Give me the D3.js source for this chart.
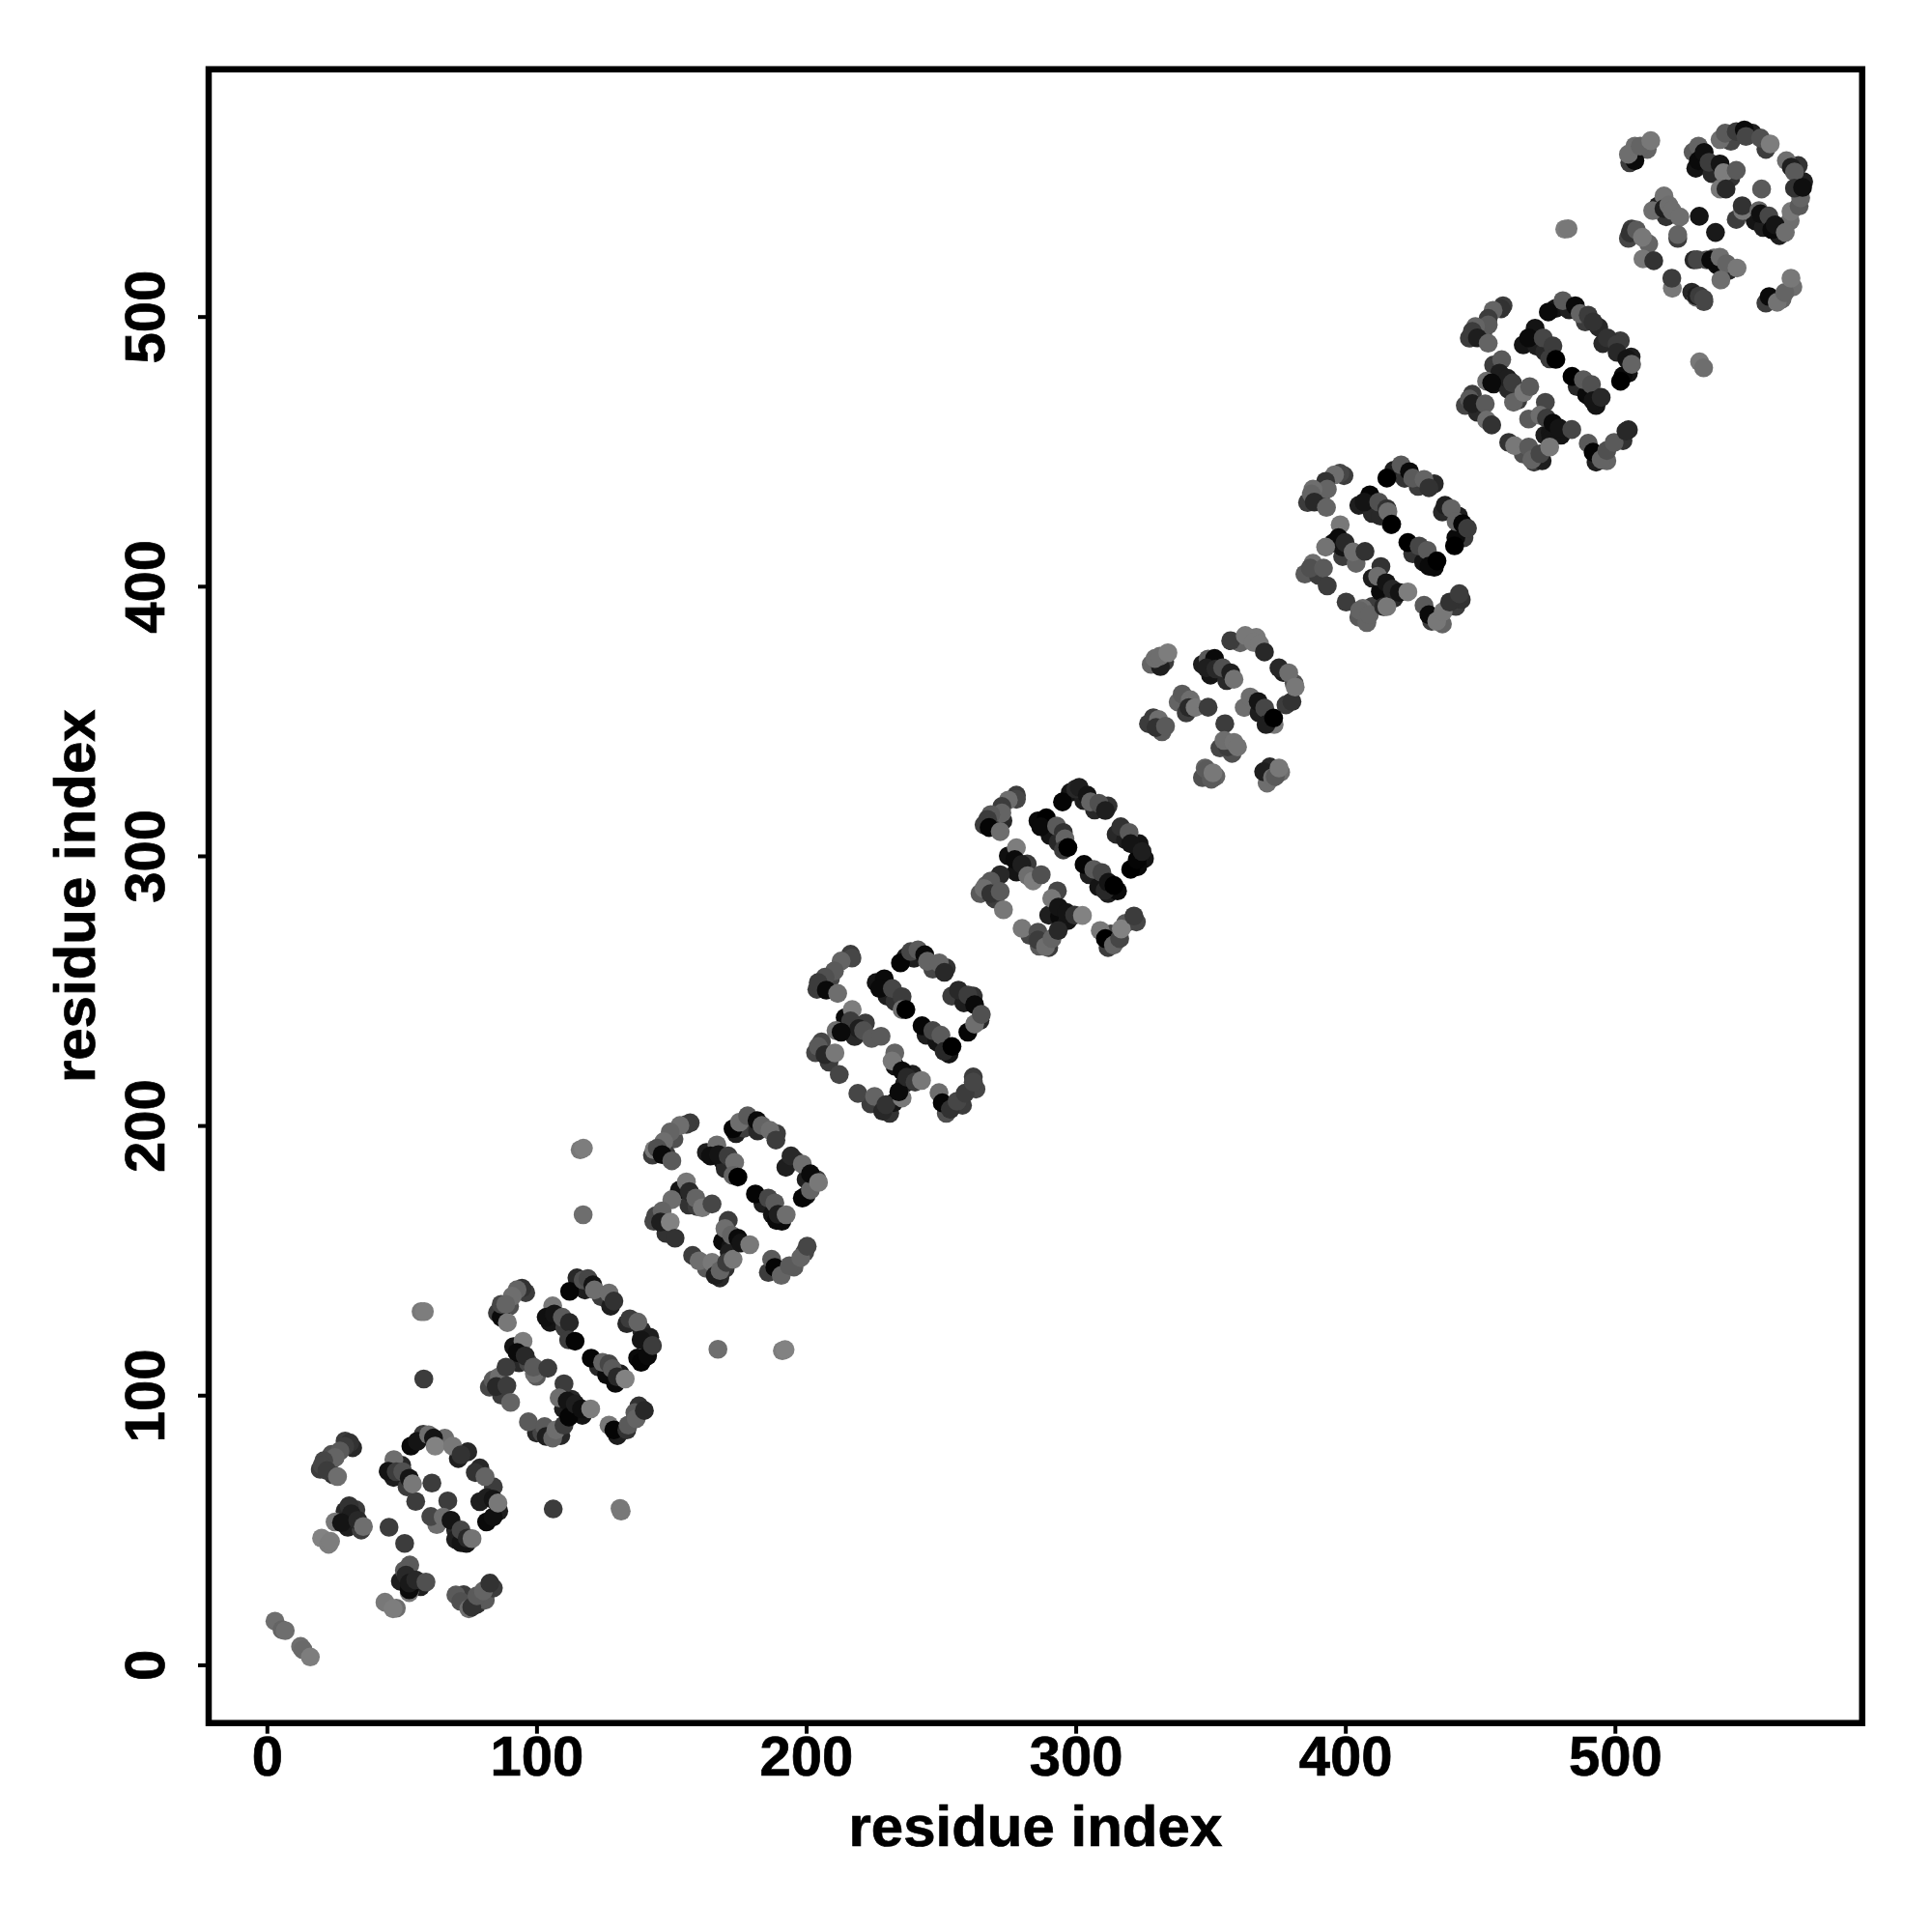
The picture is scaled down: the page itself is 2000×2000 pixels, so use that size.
<!DOCTYPE html>
<html>
<head>
<meta charset="utf-8">
<script src="https://cdn.jsdelivr.net/npm/d3@7"></script>
<style>html,body{margin:0;padding:0;background:#fff}svg{display:block}</style>
</head>
<body>
<svg id="chart" width="2000" height="2000"></svg>
<script>
const axisTicks = [0,100,200,300,400,500];
const xTitle = "residue index";
const yTitle = "residue index";
// each contact: [residue i, residue j, signal level]
const outliers = [[57.2,131,120],[58.4,131,125],[58.2,106,60],[106.2,57.8,60],[131,58,120],[131.4,57,120],[116.2,191,120],[117.4,191.6,125],[117.3,166.9,110],[167.3,117,110],[191.2,116.5,125],[192.2,116.9,130],[481.4,532.4,125],[482.6,532.6,120],[531.4,483.2,120],[532.9,481,110]];
const diagonal = [[3,16.2,110],[5.6,13,100],[6.8,12.7,110],[12.5,6.8,110],[13.4,5.6,105],[16.1,2.9,125]];
const under1 = [[29,83,60],[31.8,80.5,40],[24,78,80],[19.8,72.5,60],[24.5,70.5,50],[29,57,40],[33,57.5,60],[30,51,30],[35,50,60],[53,37,90],[49.5,31,30],[57,29,30],[48,21,110],[73,26,60],[78,22.5,50],[81,24,90],[84,28.5,60],[50,74,40],[47,69.5,30],[52,66,60],[58,85.5,60],[64,83,40],[66,84,110],[74.5,79,40],[71,76.5,30],[79,73,40],[84,66,60],[79,60.5,30],[86,57,30],[63,52,110],[70,50,40],[74,45,20],[70,46.5,30]];
const under2 = [[96,138,60],[90,133,80],[85.5,130.5,60],[108,127.5,30],[105,127,20],[110.5,125,60],[115,143.5,40],[118,139,30],[124,136.5,60],[127.5,133,30],[133.5,126.5,40],[139,124,40],[142,121.5,30],[137.5,113.8,10],[123,110.5,40],[126,107.5,10],[131,108,30],[91.5,118,20],[93.5,112,40],[97,112,70],[100,107,90],[82.5,103,70],[87,100,60],[100,86,40],[102,86,70],[109,85,40],[112,93,20],[113,98.5,40],[110,95,30],[117,92.5,20],[130,85,30],[138,96,50],[136.5,93.5,90]];
const under3 = [[157,201,60],[151,195,80],[143,189,60],[148,189.5,60],[163,190,30],[169,187,20],[170,184,40],[174,197,30],[177,199,60],[182,198,40],[189,197,60],[196,187,40],[192.5,184.5,30],[200,180,30],[204,180,60],[200,174,20],[184,171,30],[187.5,167,20],[191,164.5,10],[153,176,20],[156.5,170.5,50],[159.5,170,60],[143.5,164.5,70],[148,160,50],[163,147,90],[168,143.5,40],[170,147,50],[169,157,10],[172,155,20],[171.5,153,30],[186,145.5,60],[195.5,147.5,90],[199.5,153,70]];
const under4 = [[216.5,263.5,60],[209,254.5,70],[204,250.5,60],[226,253,20],[230,248,30],[233,246,50],[237,262.5,30],[240,262,30],[247,258,70],[252,258.5,50],[254,248,60],[258.5,245.5,30],[262,248,50],[264.5,239,40],[244.5,233.5,30],[248.5,231,20],[253,226.5,20],[214.5,240,10],[218,233,40],[222,238,60],[203.5,227,70],[208.5,223.5,60],[224,208,60],[231,204.5,50],[232.5,208.5,20],[233,222,20],[236.5,215.5,30],[239.5,219,30],[252,204.5,80],[258,207.5,60],[263,213.5,70],[262,218,60]];
const under5 = [[278,322.5,60],[273,313,40],[266,311.5,60],[286,313,10],[290.5,307.5,20],[293.5,305,40],[298,323.5,20],[303,320.5,30],[307,317,40],[312,318.5,50],[315,308,40],[318.5,306,30],[323.5,304.5,20],[325.5,299,20],[323,296,10],[305,293,30],[308.5,288.5,20],[312,286,30],[315.5,287,10],[275,300,15],[278,294,20],[282,297,60],[264.5,286,90],[270,284,60],[283,270.5,70],[286.5,266.5,90],[290,266,60],[290,278,30],[294,277.5,10],[297,276,20],[313,271,70],[318.5,275,90],[322.5,275.5,70],[312,266,60]];
const under6 = [[333,372,60],[328,371,100],[347,371,30],[350,367,20],[356,365,40],[361,379,100],[367,381,120],[377,368,30],[381,364,80],[378,356,60],[362.5,355,110],[368,353,30],[372,350,50],[338,357,100],[341,353,60],[332,346,90],[327,349,60],[353.5,340,70],[358,338,80],[347,329,80],[352,329.5,100],[371,327,110],[376,331,110],[372,333,40]];
const under7 = [[399.5,441,60],[391,434,60],[386,431,60],[405,430,30],[410,427,40],[413,426,40],[418,443,30],[422,440,50],[427,437,60],[433,438,40],[436,427.5,40],[442,426,30],[444,418,60],[441,418,10],[425,412,50],[429,409,20],[433,407,10],[395.5,416,10],[399,411,60],[404,408.5,100],[385,404.5,90],[390,404,60],[405,388.5,90],[410,392.5,60],[408,386.5,100],[410,403,30],[413,398,10],[418,395.5,40],[432,387,60],[436,386,100],[441,392.5,60],[443,395,50]];
const under8 = [[458.5,504,60],[451,494,70],[446,492,60],[466,489.5,20],[471,489,30],[474,487,40],[478,503,20],[483,502.5,30],[489,498,60],[494,496,40],[495.5,490,40],[502,491,60],[506,485,30],[505,479,20],[503,478,10],[486,474,40],[489.5,471,10],[493,467,20],[455,482,60],[455,475,20],[460.5,473,40],[464,469,60],[444.5,467,70],[449,464.5,40],[466,449,80],[470,446,60],[473,446.5,30],[474,456,30],[480,456,20],[476,457,20],[493,446,30],[497,446.5,100],[503,454,50],[505,458,40]];
const under9 = [[512,562,100],[505.5,557,60],[529,561,90],[530,555,20],[536,553,40],[543,551.5,50],[543,565,70],[551,568,30],[556,562,60],[568,556,50],[570,550,30],[565,535.5,110],[545,536,60],[552,535.5,20],[555,533,30],[561,530,30],[516,541,30],[519,537,50],[505,529,70],[512.5,527,100],[534,521,80],[538,519,20],[542,517,40],[528.5,509,40],[533,505.5,70],[556,505,60],[562,506.5,100],[566,511,110]];
const block1 = [[30.7,82.3,50],[28.9,81,60],[27.1,79.3,90],[25.3,76.9,100],[21.1,75.7,70],[20.5,74,70],[22.3,72,60],[26.2,69.8,110],[30.5,59,50],[31.3,56,30],[25.3,53,120],[27.7,52.7,20],[33.7,53.6,40],[35.8,51.3,110],[20.3,47,130],[22.9,44.7,125],[23.6,45.8,125],[51,35,90],[51.6,33.3,40],[52.8,26.8,120],[52.8,27.8,10],[52.8,30.3,25],[55.2,31.5,40],[59,30.7,80],[43.8,23.2,120],[46.8,20.8,125],[70.1,25.9,90],[71.9,23.5,80],[74.9,20.8,110],[76,21.4,50],[77.9,25.6,90],[80.3,27.4,100],[82.7,30.3,50],[45.3,51,60],[51.1,45,60],[61.2,67.4,60],[55.2,60.6,60],[67.1,60.8,60],[60.8,55,70],[47.1,76.1,110],[45,71.8,20],[48,71.6,60],[50.4,71.6,80],[52.8,69.2,20],[54,67.1,120],[53.4,81.1,10],[55.8,82.9,20],[60,85.3,110],[61.8,84.1,20],[62.4,81.1,130],[68.9,81.1,120],[72,77.9,50],[77.3,71.3,50],[80.9,69.8,100],[81.5,62,30],[81.5,53,10],[83.9,54.8,15],[83.9,61.4,20],[85.7,60,120],[65.4,54.8,110],[68.3,53.6,20],[72,45.3,20],[72,50,70],[74.3,47,40],[76.1,46.8,115]];
const block2 = [[94.6,139.7,50],[92.8,139.1,100],[91,136.7,110],[86.9,128.9,10],[86.9,133.7,70],[88.6,133.7,100],[89.2,126.9,120],[106,133.1,120],[103.6,128.9,15],[106.6,130.1,20],[109.6,128.9,90],[112.2,126.9,40],[111.9,120.5,60],[114.3,120,5],[112.3,138.5,5],[117.3,142.7,80],[119.1,143.2,70],[120.9,140.9,20],[121.5,139,110],[126.9,137.9,110],[128.7,134.9,50],[134.6,128.3,60],[137.6,127.1,100],[138.8,112.2,5],[141.2,114.6,10],[138.8,120.5,20],[143,118.4,60],[120.3,113.7,5],[124.5,112.2,100],[126.9,111.6,70],[128.1,109.8,90],[129.3,104.4,10],[129.9,106.8,40],[132.9,106,130],[95,120,125],[92.8,115.8,10],[95.8,114.6,40],[99.2,108,110],[98.9,110.4,90],[104.2,110,60],[83.9,105.6,90],[86.2,106.8,110],[85.1,103.2,40],[88.7,110.4,60],[89,103.5,60],[90.4,97.3,100],[97,90.1,90],[103,88.3,90],[103.6,84.7,30],[106,84.1,100],[107.2,87.1,110],[110.2,88.9,60],[110.2,104.2,60],[108.4,99,110],[111.4,97.8,20],[112,91.9,5],[114.4,96.7,30],[116.7,94.9,15],[120.1,94.9,125],[126.9,88.9,120],[128.7,87.1,5],[133.5,87.1,50],[134,88.9,90],[137,91.3,100],[140,94.3,40]];
const block3 = [[155.6,200.4,60],[153.2,200,110],[149.6,197.6,100],[147.2,194,110],[143.6,191,120],[144.8,191.6,80],[146.6,189.2,10],[150.2,186.9,90],[166.9,192.8,110],[164.5,188.7,15],[167.5,189.2,20],[171.1,188.7,60],[173.5,186.3,110],[172.9,181.5,100],[174.7,180.9,0],[172.9,198.8,5],[175.3,201.2,110],[178.3,203.6,90],[181.8,201.8,10],[183.6,200,100],[186.6,198.2,110],[188.8,194.6,60],[194.4,188.7,40],[198.6,185.7,110],[198.6,173.1,5],[201.6,176.1,100],[201.6,182.1,10],[204.6,178.9,120],[181.2,174.6,5],[186,173.1,70],[188.4,171.3,90],[189,164.8,10],[189.6,167.1,30],[192.6,166.9,110],[155.6,179.1,120],[156.7,175.5,40],[159.1,173.1,100],[161.5,169.5,120],[165.1,170.9,70],[150.2,172.5,110],[144.2,166.5,70],[146.6,168.3,100],[146,164.2,30],[149.6,164.2,130],[151.4,158.2,50],[157.9,151.8,60],[160.3,149.8,110],[165.1,149.2,120],[166.3,144.4,30],[168.1,146.2,100],[170.5,149.2,60],[172.9,150.4,120],[171.1,164.8,60],[169.9,161.8,110],[172.3,159.4,100],[174.7,158.2,10],[175.8,156.4,20],[179.1,155.8,120],[187.2,150.4,90],[188.4,147.4,5],[190.8,144.4,100],[193.8,148,90],[198,151,100],[200.4,155.2,70]];
const block4 = [[217,262.1,70],[213,261,100],[210.5,257.3,90],[207,255,80],[204.5,253,60],[207.5,250.2,10],[211.7,249,110],[229,254.4,10],[227.3,250.8,10],[232,250.8,70],[235.6,247.8,60],[235.6,243,110],[237,243,0],[235,260.3,5],[238.8,264.5,70],[241.5,265.1,90],[244,263.3,10],[245,260.9,100],[249.4,260.3,100],[251.3,256.8,40],[256.5,250.2,40],[260,248.4,60],[260,234.6,5],[262.5,237.6,110],[262.5,244.8,10],[265,241.2,80],[243,237,5],[247,235.2,70],[250,233.5,90],[251.2,227.5,40],[254.1,229.3,0],[217.1,243,125],[216.5,238.8,60],[219.5,235.9,30],[221.3,235.2,80],[224.3,232.3,90],[227.8,233.1,90],[211.1,235.2,110],[213,234.6,10],[205.7,231,70],[204.5,229.3,90],[207,226.3,40],[210.7,226.9,120],[212.3,218.9,70],[219.2,211.9,70],[225.4,210.8,100],[228.4,205.3,40],[229.6,207.7,50],[235.6,210.2,120],[234.4,212.5,10],[232.9,226.9,100],[231.9,223.9,120],[235.6,220.3,10],[237.4,217.9,40],[240.4,216.1,60],[242.8,216.7,120],[249.3,212.2,110],[250.5,208.4,5],[253.5,206,50],[256,209,70],[259,212,60],[262,216.1,70]];
const block5 = [[278,321,70],[275,320.7,110],[272.6,318.3,60],[272.6,315.9,100],[268.5,315.3,90],[267.3,313.5,60],[267.9,310.5,5],[272,309,110],[289.1,314.1,0],[287,310.8,10],[292.9,311.1,90],[295.4,308.7,50],[296,306.3,100],[295.4,302.2,60],[297.1,303.1,0],[295.1,320,5],[300,324.8,40],[301.3,325.4,30],[304.3,322.5,20],[305.5,320,100],[308.6,319.5,80],[311,316.8,30],[316.7,310.8,50],[319.8,308.7,90],[320.4,295,0],[322.8,298.6,5],[320.4,304.5,20],[324.6,301.6,30],[303.1,296.8,5],[306.7,295,90],[309.7,293.8,70],[310.9,287.2,40],[312.1,290.2,20],[314.2,289,0],[278,303,125],[277.4,298.6,10],[272,293,40],[280,296.8,30],[282.2,292.6,110],[284.2,290.7,125],[287.2,293,80],[266.7,289,100],[268.5,290.7,90],[266,287.9,110],[268.5,286,50],[272,286.8,90],[273.2,280,120],[280.1,273.1,120],[286,271.7,80],[286,268.8,60],[288.8,266.3,110],[291.2,269.3,100],[293.5,272.3,40],[293.2,287,70],[291.1,284.2,120],[293.6,281,20],[296.6,279,20],[299.6,278,50],[302.5,277.9,130],[309.1,272.3,120],[311,269.3,0],[314,266.9,100],[316.3,269.3,70],[316.9,272.9,130],[321.6,277.7,60]];
const block6 = [[331.4,370.2,30],[329.4,373.2,110],[331.2,374,110],[334.2,375.3,125],[349.1,373,90],[351.5,373.2,10],[348.5,369.7,30],[352,369.3,40],[354.5,369.7,80],[357.5,367.9,30],[358.7,365.5,115],[357.5,379.8,60],[362.9,381.7,120],[365.9,379.2,120],[368.2,378.6,120],[370,375.6,40],[375.4,369.7,40],[380.2,357.2,50],[379,367.9,110],[381.4,362.6,120],[364.7,358.9,110],[367.7,357.2,20],[370.1,354.8,70],[373.6,348.7,120],[370.6,348.7,30],[373.4,351.1,0],[339.5,360,90],[342.5,357.9,110],[342,355,40],[344.3,355,120],[349.1,355.1,60],[328.8,351.2,60],[330.7,350.6,110],[329.8,347.6,50],[333.3,348.1,90],[355.3,349,60],[356.3,340.4,60],[355,342.8,110],[358.7,342.1,115],[360,340.4,115],[348,332.6,100],[348.5,332,90],[350.3,328.4,90],[350.9,330.8,120],[369.7,331.2,30],[373,329,110],[374,329.4,90],[375.4,332.6,120]];
const block7 = [[398,441.9,70],[396,441.3,110],[392.7,438.9,50],[393.3,436,100],[388,436,110],[387.4,434.2,100],[388.5,431.2,40],[393,429.2,100],[409.1,433.9,5],[407,431.2,20],[412.4,431.2,80],[415.4,428.8,50],[415.8,427.6,110],[417,422.8,60],[417.2,423,0],[415.4,440.1,0],[420.7,445,90],[423.8,442.5,10],[425,440.1,90],[429.2,439.6,100],[431,436.5,50],[437,430,30],[439.3,428.8,100],[441.1,424,100],[440.5,415,0],[443.5,423.2,5],[445.3,421.5,60],[423.2,416.2,0],[427.4,414.9,70],[430.4,413.3,90],[431,407.4,10],[434,409.4,0],[398.1,422.8,120],[397.5,418,10],[399,414.5,20],[399.9,416.2,40],[402.9,412.7,110],[407.3,412.9,50],[392.7,414.5,115],[388,408.5,110],[387,406.7,80],[391.9,406.7,90],[393.3,400.1,60],[400.3,394.1,60],[406.5,391.8,110],[405.3,391,100],[408.9,389.4,100],[414.2,392.4,40],[415.4,392.4,120],[413.2,407.3,50],[412,403.7,110],[415.2,401.3,20],[417.4,398.9,40],[420,397.7,20],[423.2,397.9,125],[429.2,392.9,90],[431,389.4,10],[433.9,387,120],[436.3,390.6,120],[438.7,394.1,50],[442.3,397.2,60]];
const block8 = [[457.8,502.9,50],[454.8,502.3,100],[453,499.3,60],[453,496.9,90],[448.3,496.3,100],[447.1,494.5,60],[449,492.1,30],[453,490.1,100],[470.4,495.7,20],[468,492.1,10],[473.4,492.1,70],[477,489.1,60],[475.8,484.3,60],[478.1,484.1,0],[475.3,501.7,10],[480.7,505.9,90],[485.3,504,10],[487.1,501.1,100],[490.1,500.5,60],[491.9,498,50],[497.2,492.1,50],[500.8,489.7,60],[500.8,486.7,40],[502.1,476,0],[504.4,484.3,20],[506.2,482.3,100],[484.1,477.8,0],[488.3,476.6,90],[491.3,474.8,80],[491.9,468.8,20],[494.9,470,40],[458,484,90],[457.2,479,30],[460.2,477.1,30],[462.4,468.2,100],[462,475.4,60],[466.2,471.8,120],[468.4,474,90],[452.4,476,110],[454.3,475.4,10],[447.1,471.2,60],[446,469.4,90],[447.1,467.7,30],[451.9,467.6,90],[452.4,461.6,110],[454.3,459.8,50],[460.6,453.3,50],[462.8,452.1,120],[468,451.6,90],[469.2,446.9,100],[472.2,449.1,70],[476.3,454.6,20],[475.8,451.6,120],[474.2,468.2,70],[468,462,90],[472.2,463.4,110],[474.6,462.3,60],[477,460.5,10],[479.3,458.7,20],[484,458.1,70],[490.1,453,90],[491.9,449.7,5],[494.9,447,100],[497,450.3,80],[499.7,453.3,90],[504.1,457.5,40]];
const block9 = [[507.4,557.8,10],[505,560.2,110],[507.4,563.2,110],[509.4,563.2,100],[513.3,565.2,120],[531,563.2,100],[531,557.8,10],[533.1,560.9,15],[534.9,557.2,60],[539,556.6,20],[540.3,553.3,125],[539,547.3,120],[541.2,547.3,40],[539,565.6,110],[540.9,568,90],[545,568.6,60],[548,569.2,10],[548.6,566.8,70],[554,566.2,80],[557.6,564,125],[563.6,557.8,110],[565.4,555.4,30],[566.6,553.6,90],[565.3,539,120],[568.3,541,90],[568.9,544,100],[566.6,547.6,50],[569.6,547.9,15],[545,554.2,90],[554.4,547.3,90],[547.4,539.3,120],[547.2,541.1,50],[553.4,539.3,100],[554,538.1,15],[557.1,537.3,70],[558.2,532.2,10],[559.4,534,20],[563.2,531.2,110],[518.2,544.7,115],[514,539.3,110],[518.2,540,30],[520,541.3,110],[521.2,539.3,110],[524.1,536.9,110],[531.3,537.2,20],[537.3,531.2,25],[523.3,529,60],[523.3,530.4,100],[506.2,532.5,60],[505.6,531,50],[508,532.1,90],[510.2,529.4,120],[510.4,521.4,120],[514.4,520.7,50],[529.3,521,40],[530.5,521.1,70],[536.7,521.7,110],[535.5,521,10],[539.1,518.4,10],[539,522,110],[541.4,519.6,100],[545.3,518,120],[539.3,513.6,110],[521.3,510.5,120],[521.1,514.2,60],[530.1,507.2,110],[530.1,507.7,30],[531.3,507.7,60],[532.9,506.5,70],[557.2,507.4,10],[560.2,505.3,115],[563,508.9,100],[565.3,514.2,120]];

const contacts = [].concat(diagonal, outliers, under1, block1, under2, block2, under3, block3, under4, block4, under5, block5, under6, block6, under7, block7, under8, block8, under9, block9);

const frame = {left:216, right:1927.7, top:71.7, bottom:1783.7};
const axisDomain = [-21.6, 591.7];
const svg = d3.select("#chart");
const x = d3.scaleLinear().domain(axisDomain).range([frame.left, frame.right]);
const y = d3.scaleLinear().domain(axisDomain).range([frame.bottom, frame.top]);
const gray = d3.scaleLinear().domain([0,130]).range(["#000000","#828282"]);
const font = "'Liberation Sans', Arial, sans-serif";

svg.append("g").selectAll("circle").data(contacts).join("circle")
  .attr("cx", d => x(d[0])).attr("cy", d => y(d[1])).attr("r", 9.8)
  .attr("fill", d => gray(d[2]));

const gx = svg.append("g").attr("transform", `translate(0,${frame.bottom})`)
  .call(d3.axisBottom(x).tickValues(axisTicks).tickSize(11).tickFormat(d3.format("d")));
const gy = svg.append("g").attr("transform", `translate(${frame.left},0)`)
  .call(d3.axisLeft(y).tickValues(axisTicks).tickSize(11).tickFormat(d3.format("d")));
[gx, gy].forEach(g => {
  g.select(".domain").remove();
  g.selectAll("line").attr("stroke", "#000").attr("stroke-width", 4);
  g.selectAll("text").attr("font-family", font).attr("font-weight", "bold").attr("font-size", 58).attr("fill", "#000").attr("dy", 0)
    .attr("stroke", "#000").attr("stroke-width", 0.7);
});
gx.selectAll("text").attr("y", 54).attr("text-anchor", "middle");
gy.selectAll("text").attr("x", 0).attr("y", 0).attr("text-anchor", "middle").attr("transform", "translate(-46,0) rotate(-90)");

svg.append("rect").attr("x", frame.left).attr("y", frame.top)
  .attr("width", frame.right-frame.left).attr("height", frame.bottom-frame.top)
  .attr("fill", "none").attr("stroke", "#000").attr("stroke-width", 6.5);

svg.append("text").attr("x", (frame.left+frame.right)/2).attr("y", 1911)
  .attr("text-anchor", "middle").attr("font-family", font).attr("font-weight", "bold").attr("font-size", 60)
  .attr("stroke", "#000").attr("stroke-width", 0.7).text(xTitle);
svg.append("text").attr("transform", `translate(98,${(frame.top+frame.bottom)/2}) rotate(-90)`)
  .attr("text-anchor", "middle").attr("font-family", font).attr("font-weight", "bold").attr("font-size", 60)
  .attr("stroke", "#000").attr("stroke-width", 0.7).text(yTitle);
</script>
</body>
</html>
